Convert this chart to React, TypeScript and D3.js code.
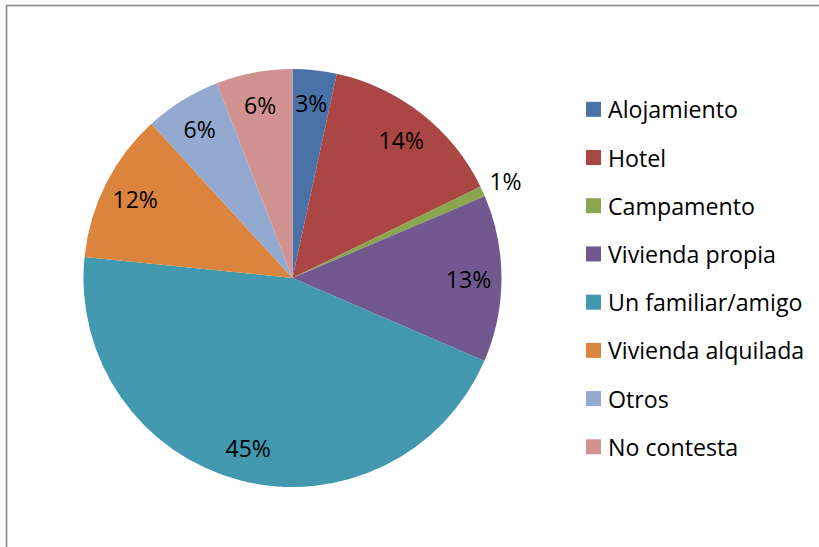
import React from "react";
import * as d3 from "d3";

const categories = [
  "Alojamiento",
  "Hotel",
  "Campamento",
  "Vivienda propia",
  "Un familiar/amigo",
  "Vivienda alquilada",
  "Otros",
  "No contesta",
];
const values = [3.4, 14.4, 0.8, 12.9, 45.1, 11.6, 5.9, 5.9];
const colors = [
  "#4A72A8",
  "#AA4643",
  "#89A54E",
  "#71588F",
  "#4198AF",
  "#DB843D",
  "#93A9CF",
  "#D19392",
];

const W = 819;
const H = 547;
const cx = 292.5;
const cy = 278;
const R = 209;
const FONT = "'Open Sans', 'Noto Sans', sans-serif";

export default function App() {
  const total = d3.sum(values);
  const pie = d3
    .pie<number>()
    .sort(null)
    .value((d) => d);
  const arcs = pie(values);
  const arcGen = d3.arc<d3.PieArcDatum<number>>().innerRadius(0).outerRadius(R);
  const labelArc = d3
    .arc<d3.PieArcDatum<number>>()
    .innerRadius(176)
    .outerRadius(176);
  const outerLabelArc = d3
    .arc<d3.PieArcDatum<number>>()
    .innerRadius(234)
    .outerRadius(234);

  const legendY = d3
    .scalePoint<string>()
    .domain(categories)
    .range([109.3, 446.8]);

  return (
    <svg
      width={W}
      height={H}
      style={{ position: "absolute", left: 0, top: 0, background: "#fff" }}
    >
      <rect x={0} y={0} width={W} height={H} fill="#fff" />
      <rect
        x={6.5}
        y={5.5}
        width={1000}
        height={1000}
        fill="none"
        stroke="#888"
        strokeWidth={1.6}
      />
      <g transform={`translate(${cx},${cy})`}>
        {arcs.map((a, i) => (
          <path key={i} d={arcGen(a) || ""} fill={colors[i]} />
        ))}
        {arcs.map((a, i) => {
          const pct = (a.value / total) * 100;
          const small = pct < 2;
          const [x, y] = small ? outerLabelArc.centroid(a) : labelArc.centroid(a);
          return (
            <text
              key={i}
              x={x}
              y={y}
              textAnchor="middle"
              dominantBaseline="central"
              fontFamily={FONT}
              fontSize={23}
              fill="#000"
            >
              {Math.round(pct)}%
            </text>
          );
        })}
      </g>
      <g>
        {categories.map((c, i) => {
          const y = legendY(c) as number;
          return (
            <g key={c}>
              <rect x={586} y={y - 7.5} width={15} height={15} fill={colors[i]} />
              <text
                x={608}
                y={y}
                dominantBaseline="central"
                fontFamily={FONT}
                fontSize={23.2}
                fill="#000"
              >
                {c}
              </text>
            </g>
          );
        })}
      </g>
    </svg>
  );
}
